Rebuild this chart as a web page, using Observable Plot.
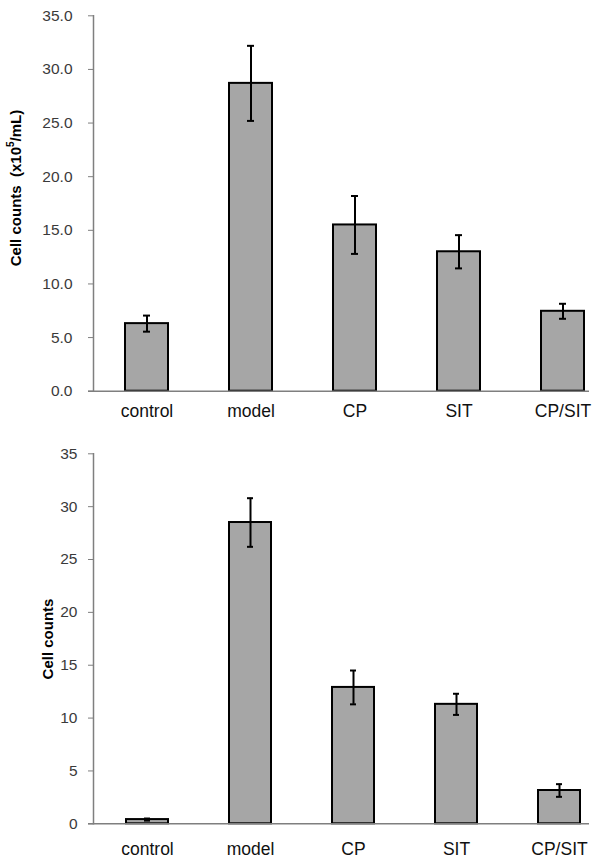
<!DOCTYPE html>
<html><head><meta charset="utf-8">
<script src="https://cdn.jsdelivr.net/npm/d3@7"></script>
<script src="https://cdn.jsdelivr.net/npm/@observablehq/plot@0.6"></script>
<style>body{margin:0;background:#fff;} svg{display:block;}</style>
</head><body><div id="c"></div>
<script>
const groups = ["control", "model", "CP", "SIT", "CP/SIT"];
// top panel: cell concentration (x10^5/mL)
const concMean = [6.3, 28.7, 15.5, 13.0, 7.45];
const concErr = [0.75, 3.5, 2.7, 1.55, 0.7];
const concTicks = [0, 5, 10, 15, 20, 25, 30, 35];
// bottom panel: cell counts
const countMean = [0.4, 28.5, 12.9, 11.3, 3.15];
const countErr = [0.1, 2.3, 1.6, 1.0, 0.6];
const countTicks = [0, 5, 10, 15, 20, 25, 30, 35];

const FONT = "'Liberation Sans', Arial, sans-serif";

function panel({means, errs, ticks, fmt, marginTop, marginBottom, xRange, yPad, xPad, label, labelX, labelY, labelSize}) {
  const data = groups.map((g, i) => ({g, v: means[i], e: errs[i]}));
  const svg = Plot.plot({
    width: 600,
    height: 430,
    marginLeft: 93,
    marginRight: 11,
    marginTop,
    marginBottom,
    style: {fontFamily: FONT, background: "#fff"},
    x: {domain: groups, range: xRange, paddingInner: 0.59, paddingOuter: 0.295, label: null},
    y: {domain: [0, 35], label: null},
    marks: [
      Plot.barY(data, {x: "g", y: "v", fill: "#a6a6a6", stroke: "#000", strokeWidth: 2}),
      Plot.ruleX(data, {x: "g", y1: d => d.v - d.e, y2: d => d.v + d.e, stroke: "#000", strokeWidth: 2}),
      Plot.tickY(data, {x: "g", y: d => d.v + d.e, stroke: "#000", strokeWidth: 2, insetLeft: 18, insetRight: 18}),
      Plot.tickY(data, {x: "g", y: d => d.v - d.e, stroke: "#000", strokeWidth: 2, insetLeft: 18, insetRight: 18}),
      Plot.frame({anchor: "left", stroke: "#7f7f7f", strokeWidth: 1.5}),
      Plot.ruleY([0], {stroke: "#7f7f7f", strokeWidth: 1.5, insetLeft: -5}),
      Plot.axisY({ticks, tickFormat: fmt, tickSize: 5, tickPadding: yPad, stroke: "#7f7f7f", fill: "#3a3a3a", fontSize: 15.5, label: null}),
      Plot.axisX({tickSize: 0, tickPadding: xPad, fill: "#111", fontSize: 17.5, label: null})
    ]
  });
  const t = d3.select(svg).append("text")
    .attr("transform", `translate(${labelX},${labelY}) rotate(-90)`)
    .attr("text-anchor", "middle")
    .attr("dominant-baseline", "central")
    .attr("font-family", FONT)
    .attr("font-weight", "bold")
    .attr("font-size", labelSize)
    .attr("fill", "#000");
  label(t);
  return svg;
}

const topChart = panel({
  means: concMean, errs: concErr, ticks: concTicks, fmt: d3.format(".1f"),
  marginTop: 15.3, marginBottom: 39.3, xRange: [93.3, 615.3], yPad: 16, xPad: 13,
  labelX: 15, labelY: 188, labelSize: 15,
  label: t => {
    t.append("tspan").text("Cell counts  (x10");
    t.append("tspan").attr("font-size", 10).attr("dy", -5).text("5");
    t.append("tspan").attr("dy", 5).text("/mL)");
  }
});
const bottomChart = panel({
  means: countMean, errs: countErr, ticks: countTicks, fmt: d3.format("d"),
  marginTop: 23.3, marginBottom: 36.7, xRange: [93.7, 611.7], yPad: 11, xPad: 19,
  labelX: 47, labelY: 209, labelSize: 15,
  label: t => { t.append("tspan").text("Cell counts"); }
});

const c = document.getElementById("c");
c.appendChild(topChart);
c.appendChild(bottomChart);
</script>
</body></html>
